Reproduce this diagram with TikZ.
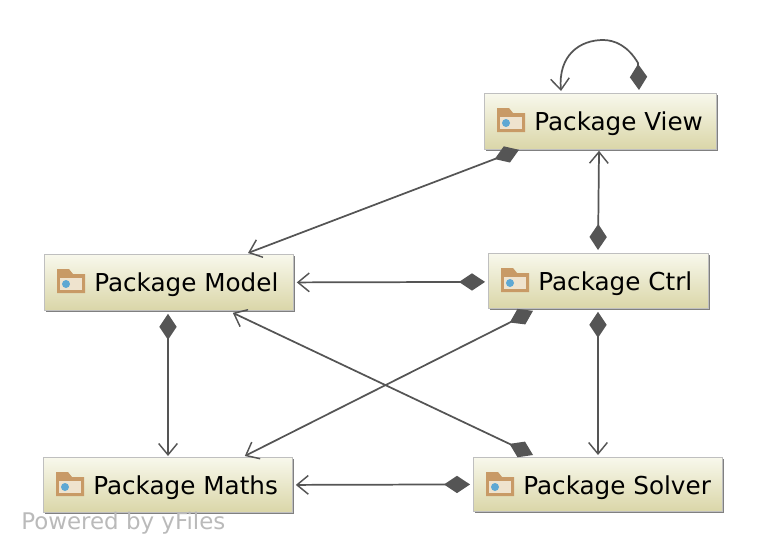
\documentclass[tikz,border=0pt]{standalone}
\usepackage{fontspec}
\setmainfont{DejaVu Sans}
\usetikzlibrary{arrows.meta,calc,shadows}
\definecolor{edgegray}{HTML}{555555}
\definecolor{boxtop}{HTML}{F8F8EC}
\definecolor{boxbot}{HTML}{DAD6A8}
\definecolor{folderbrown}{HTML}{C89A66}
\definecolor{folderpale}{HTML}{EFE3CE}
\definecolor{folderblue}{HTML}{5FA8D3}
\tikzset{
  pkgbox/.style={draw=black!25,line width=.6pt,top color=boxtop,bottom color=boxbot,inner sep=0pt,
    drop shadow={shadow xshift=1.4pt,shadow yshift=-1.4pt,fill=black!50,opacity=1}},
  pkglabel/.style={anchor=base west,inner sep=0pt,text=black,font=\fontsize{18.5pt}{20pt}\selectfont},
  conn/.style={draw=edgegray,line width=1.3pt},
  dia/.tip={Diamond[length=19.5pt,width=13pt,fill=edgegray,line width=0pt,color=edgegray]},
  barb/.tip={Straight Barb[length=8.5pt,width=14pt,color=edgegray,line width=1.1pt]},
  folder/.pic={
    \fill[fill=folderbrown] (0,24) -- (0,0) -- (12,0) -- (16,5) -- (28,5) -- (28,24) -- cycle;
    \fill[fill=folderpale] (3,9) rectangle (25,21);
    \fill[fill=folderblue] (9,15) circle (4);
  }
}
\newcommand{\pkgnode}[6]{%
  \node[pkgbox,minimum width=#4*.75pt,minimum height=#5*.75pt,anchor=north west] (#1) at (#2,#3) {};
  \pic at ($(#1.north west)+(13,15)$) {folder};
  \node[pkglabel] (#1t) at ($(#1.north west)+(50,37)$) {#6};
}
\begin{document}
\begin{tikzpicture}[x=.75pt,y=-.75pt]
\useasboundingbox (0,0) rectangle (766,554);
\pkgnode{view}{484}{93}{232}{56}{Package View}
\pkgnode{ctrl}{488}{253}{220}{55}{Package Ctrl}
\pkgnode{model}{44}{254}{249}{56}{Package Model}
\pkgnode{maths}{43}{457}{249}{55}{Package Maths}
\pkgnode{solver}{473}{457}{249}{54}{Package Solver}
\node[anchor=base west,inner sep=0pt,text=black!27,font=\fontsize{17.2pt}{19pt}\selectfont] (wm) at (21,529) {Powered by yFiles};
% connectors
\draw[conn,{dia}-{barb}] ($(view.south west)+(35,0)$) -- ($(model.north west)+(204,-1)$);
\draw[conn,{dia}-{barb}] ($(view.north west)+(155,-3)$) -- ($(view.north west)+(154,-30)$) .. controls +(-10,-17) and +(12,0) .. ($(view.north west)+(119,-53)$) .. controls +(-23,0) and +(-3,-36) .. ($(view.north west)+(77,-2)$);
\draw[conn,{dia}-{barb}] ($(ctrl.north west)+(110,-3)$) -- ($(view.south west)+(115,1)$);
\draw[conn,{dia}-{barb}] ($(ctrl.west)+(-3,1)$) -- ($(model.east)+(3,0)$);
\draw[conn,{dia}-{barb}] ($(ctrl.south west)+(45,2)$) -- ($(maths.north east)+(-48,-1)$);
\draw[conn,{dia}-{barb}] ($(ctrl.south west)+(110,3)$) -- ($(solver.north west)+(125,-2)$);
\draw[conn,{dia}-{barb}] ($(solver.north west)+(60,-2)$) -- ($(model.south east)+(-61,2)$);
\draw[conn,{dia}-{barb}] ($(solver.west)+(-3,0)$) -- ($(maths.east)+(3,0)$);
\draw[conn,{dia}-{barb}] ($(model.south west)+(124,3)$) -- ($(maths.north west)+(125,-1)$);
\end{tikzpicture}
\end{document}
